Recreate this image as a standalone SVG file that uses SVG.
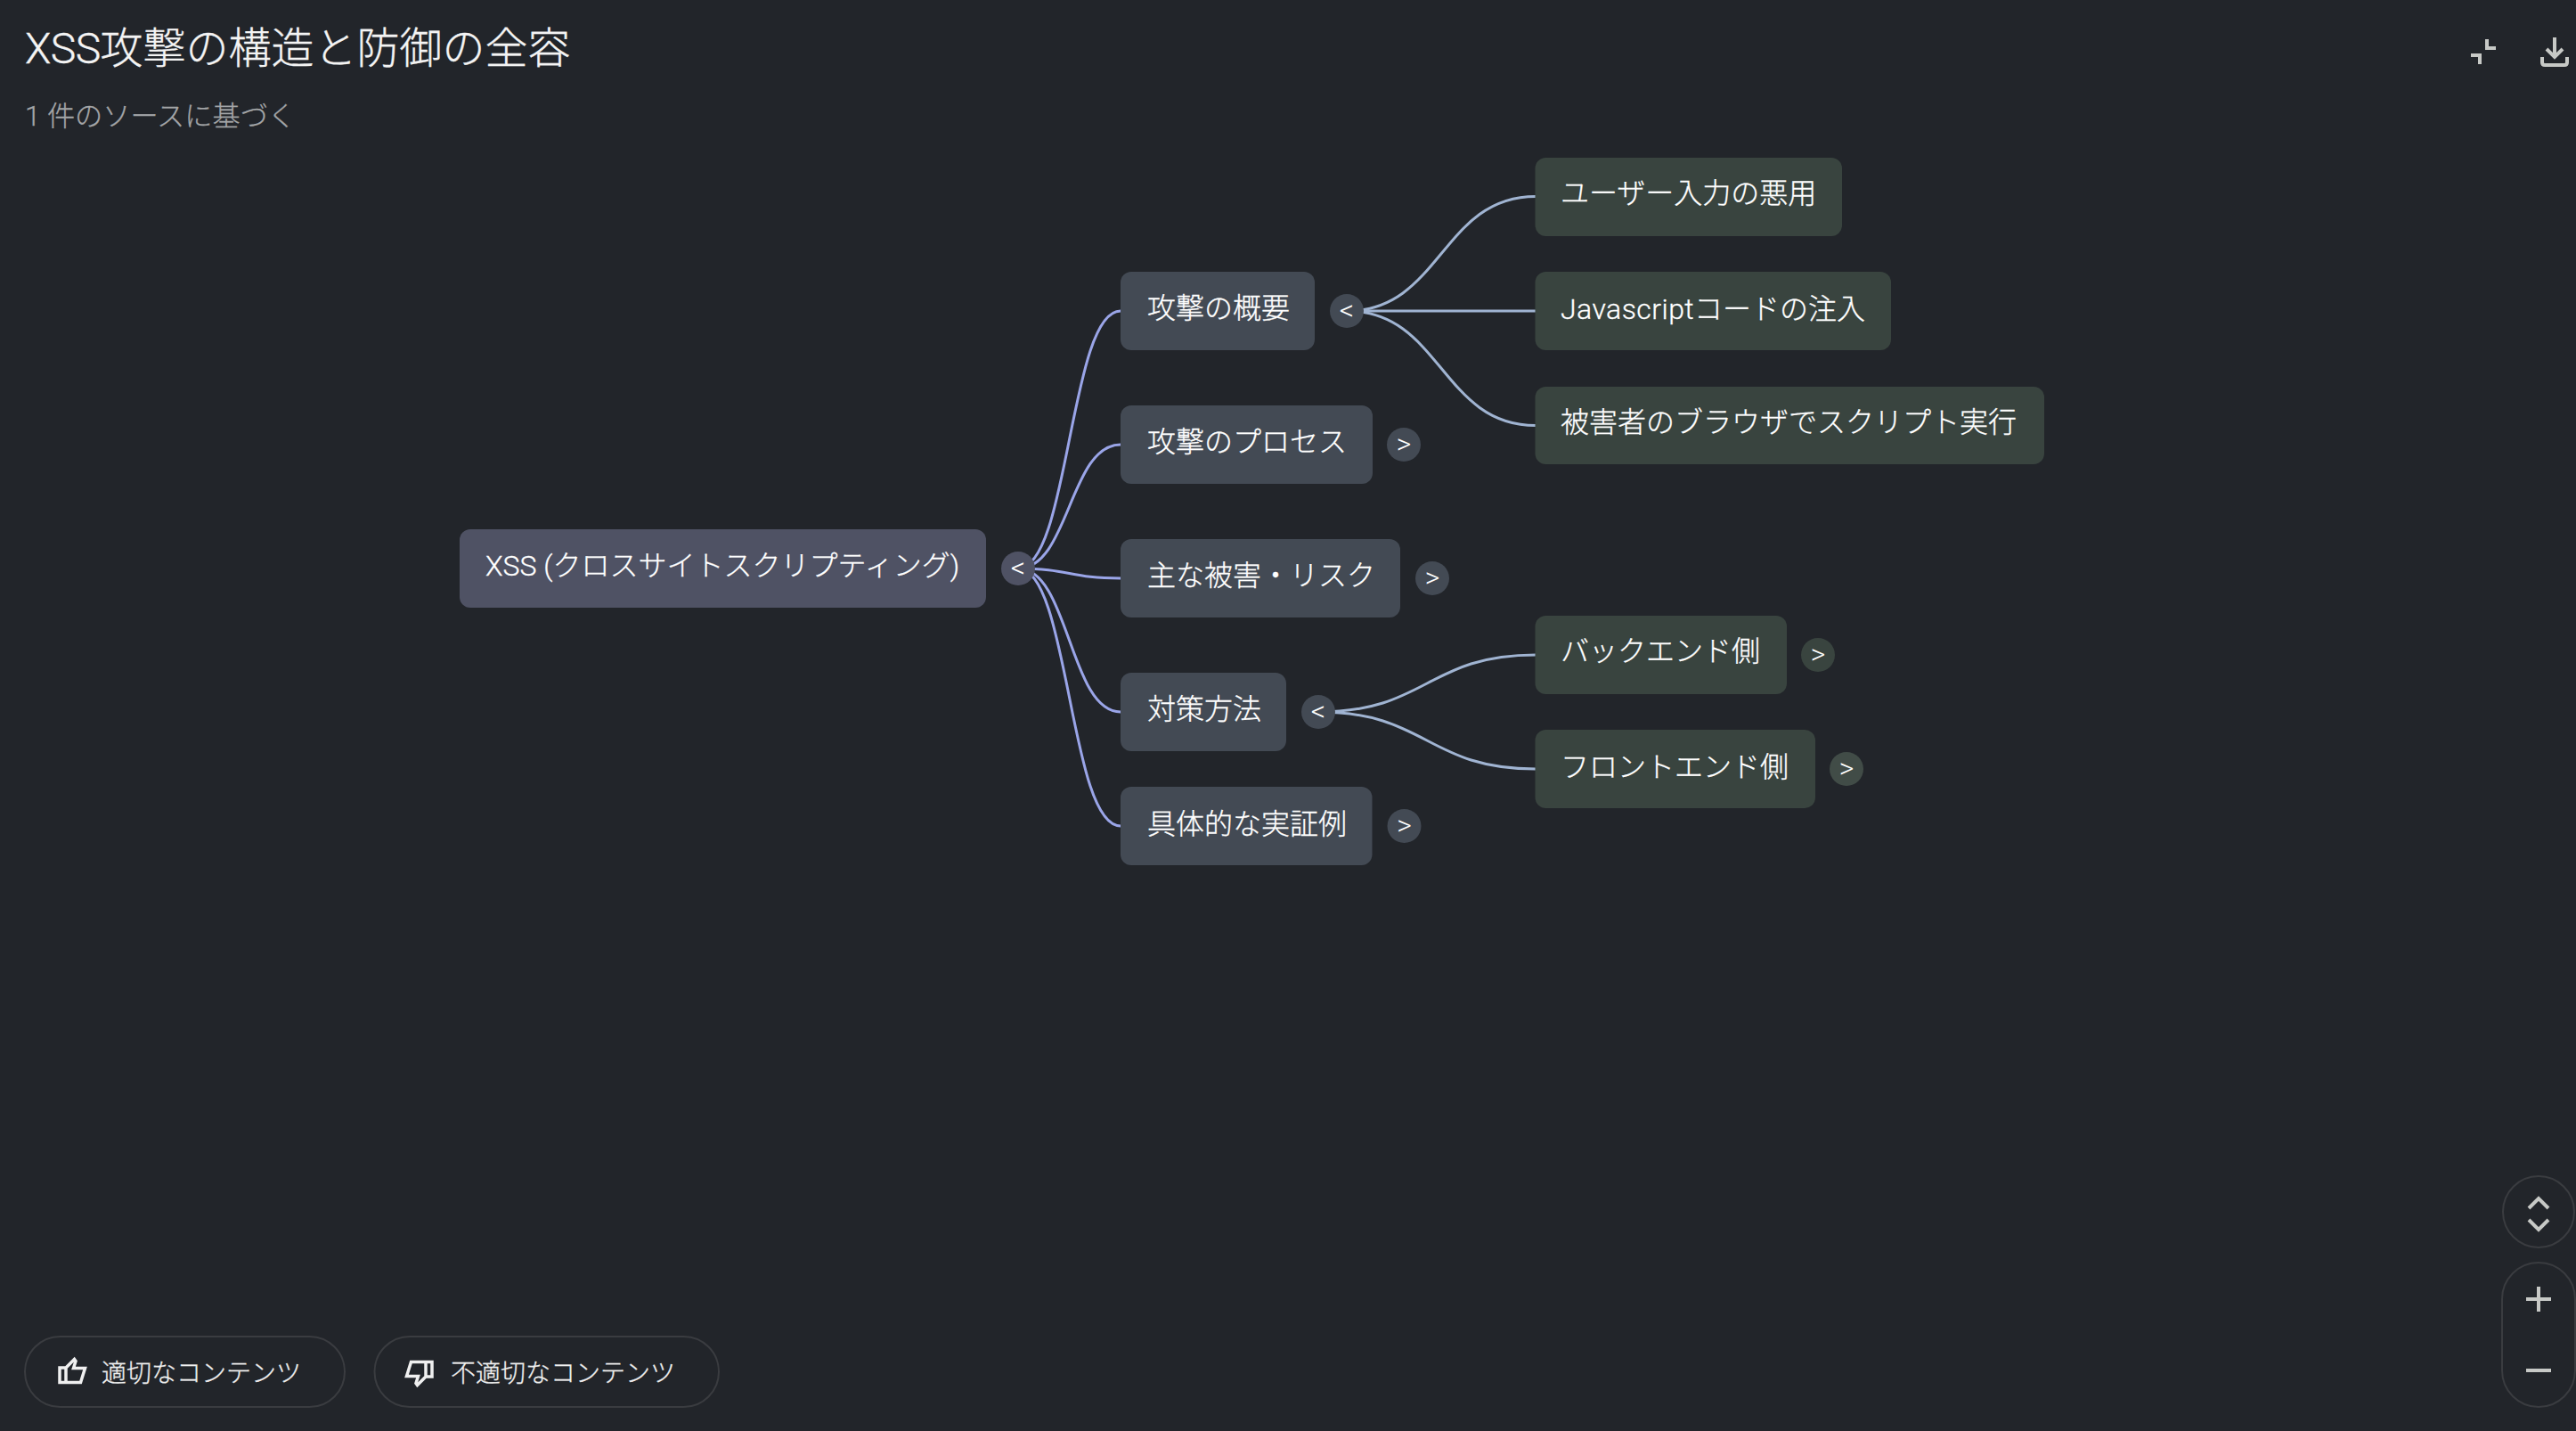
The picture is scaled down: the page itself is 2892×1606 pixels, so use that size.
<svg xmlns="http://www.w3.org/2000/svg" width="2892" height="1606" viewBox="0 0 2892 1606">
<style>
text{font-family:Roboto,"Noto Sans CJK JP",sans-serif;fill:#fff}
.t{font-size:32px;font-weight:300;stroke:#fff;stroke-width:.3}
.title{font-size:48px;font-weight:300;fill:#f4f4f4;stroke:#f4f4f4;stroke-width:.35}
.sub{font-size:31.200px;font-weight:300;fill:#a4a6a8;stroke:#a4a6a8;stroke-width:.3}
.btn{font-size:28px;font-weight:300;fill:#f0f0f0;stroke:#f0f0f0;stroke-width:.3}
.tg{font-size:32px;font-weight:300;text-anchor:middle}
.root{fill:#4f5264}.l1{fill:#434a54}.l2{fill:#39443f}.l2b{fill:#414c47}
.e1{fill:none;stroke:#9aa5e8;stroke-width:3}
.e2{fill:none;stroke:#a0b4d2;stroke-width:3}
.ui{fill:none;stroke:#c7c9c6;stroke-width:4}
.out{fill:none;stroke:#3a3c40;stroke-width:2}
.thumb{fill:none;stroke:#f0f0f0;stroke-width:3.500}
</style>
<rect width="2892" height="1606" fill="#22252a"/>
<text class="title" x="28" y="71"><tspan letter-spacing="-.6">XSS</tspan>攻撃の構造と防御の全容</text>
<text class="sub" x="28" y="141">1 件のソースに基づく</text>
<g id="connectors">
<path class="e1" d="M1143 638C1200.500 638 1200.500 349 1258 349"/>
<path class="e1" d="M1143 638C1200.500 638 1200.500 499 1258 499"/>
<path class="e1" d="M1143 638C1200.500 638 1200.500 649 1258 649"/>
<path class="e1" d="M1143 638C1200.500 638 1200.500 799 1258 799"/>
<path class="e1" d="M1143 638C1200.500 638 1200.500 927 1258 927"/>
<path class="e2" d="M1512 349C1618 349 1618 220.500 1724 220.500"/>
<path class="e2" d="M1512 349H1724"/>
<path class="e2" d="M1512 349C1618 349 1618 477.500 1724 477.500"/>
<path class="e2" d="M1480 799C1602 799 1602 735 1724 735"/>
<path class="e2" d="M1480 799C1602 799 1602 863 1724 863"/>
</g>
<g id="n-root"><rect class="root" x="516" y="594" width="591" height="88" rx="12"/><text class="t" x="545" y="646">XSS (クロスサイトスクリプティング)</text><circle class="root" cx="1143" cy="638" r="19"/><text class="tg" x="1143" y="648">&lt;</text></g>
<g id="n-a"><rect class="l1" x="1258" y="305" width="218" height="88" rx="12"/><text class="t" x="1288" y="357">攻撃の概要</text><circle class="l1" cx="1512" cy="349" r="19"/><text class="tg" x="1512" y="359">&lt;</text></g>
<g id="n-b"><rect class="l1" x="1258" y="455" width="283" height="88" rx="12"/><text class="t" x="1288" y="507">攻撃のプロセス</text><circle class="l1" cx="1576" cy="499" r="19"/><text class="tg" x="1576" y="509">&gt;</text></g>
<g id="n-c"><rect class="l1" x="1258" y="605" width="314" height="88" rx="12"/><text class="t" x="1288" y="657">主な被害・リスク</text><circle class="l1" cx="1608" cy="649" r="19"/><text class="tg" x="1608" y="659">&gt;</text></g>
<g id="n-d"><rect class="l1" x="1258" y="755" width="186" height="88" rx="12"/><text class="t" x="1288" y="807">対策方法</text><circle class="l1" cx="1480" cy="799" r="19"/><text class="tg" x="1480" y="809">&lt;</text></g>
<g id="n-e"><rect class="l1" x="1258" y="883" width="282.500" height="88" rx="12"/><text class="t" x="1288" y="936">具体的な実証例</text><circle class="l1" cx="1576.500" cy="927" r="19"/><text class="tg" x="1576.500" y="937">&gt;</text></g>
<g id="n-a1"><rect class="l2" x="1723.500" y="177" width="344.500" height="88" rx="12"/><text class="t" x="1752" y="228">ユーザー入力の悪用</text></g>
<g id="n-a2"><rect class="l2" x="1723.500" y="305" width="399.500" height="88" rx="12"/><text class="t" x="1752" y="358"><tspan letter-spacing=".45">Javascript</tspan>コードの注入</text></g>
<g id="n-a3"><rect class="l2" x="1723.500" y="434" width="571.500" height="87" rx="12"/><text class="t" x="1752" y="485">被害者のブラウザでスクリプト実行</text></g>
<g id="n-d1"><rect class="l2" x="1723.500" y="691" width="282.500" height="88" rx="12"/><text class="t" x="1752" y="742">バックエンド側</text><circle class="l2" cx="2041" cy="735" r="19"/><text class="tg" x="2041" y="745">&gt;</text></g>
<g id="n-d2"><rect class="l2" x="1723.500" y="819" width="314.500" height="88" rx="12"/><text class="t" x="1752" y="872">フロントエンド側</text><circle class="l2b" cx="2073" cy="863" r="19"/><text class="tg" x="2073" y="873">&gt;</text></g>
<path fill="#c7c9c6" d="M2790 44h4v8h8v4h-12zM2774 60h12v12h-4v-8h-8z"/>
<path class="ui" d="M2868 42V63M2859 55l9 9 9-9M2854 64v6q0 3 3 3h22q3 0 3-3v-6"/>
<circle class="out" cx="2850" cy="1360" r="40"/>
<path class="ui" d="M2839 1356l11-11 11 11M2839 1369l11 11 11-11"/>
<rect class="out" x="2809" y="1417" width="82" height="162" rx="41"/>
<path class="ui" d="M2836 1458h28M2850 1444v28M2836 1538h28"/>
<rect class="out" x="28" y="1500" width="359" height="79" rx="39.500"/>
<rect class="out" x="420.500" y="1500" width="386.500" height="79" rx="39.500"/>
<path id="thumb-up" class="thumb" d="M67 1535H74L83.500 1525.500 85 1527.500 82.500 1535.500H95.500L90.500 1551.500H67ZM74 1535V1551.500"/>
<path id="thumb-down" class="thumb" transform="translate(552 3080)" d="M-67-1535H-74L-83.500-1525.500-85-1527.500-82.500-1535.500H-95.500L-90.500-1551.500H-67ZM-74-1535V-1551.500" />
<text class="btn" x="114" y="1551">適切なコンテンツ</text>
<text class="btn" x="506" y="1551">不適切なコンテンツ</text>
</svg>
